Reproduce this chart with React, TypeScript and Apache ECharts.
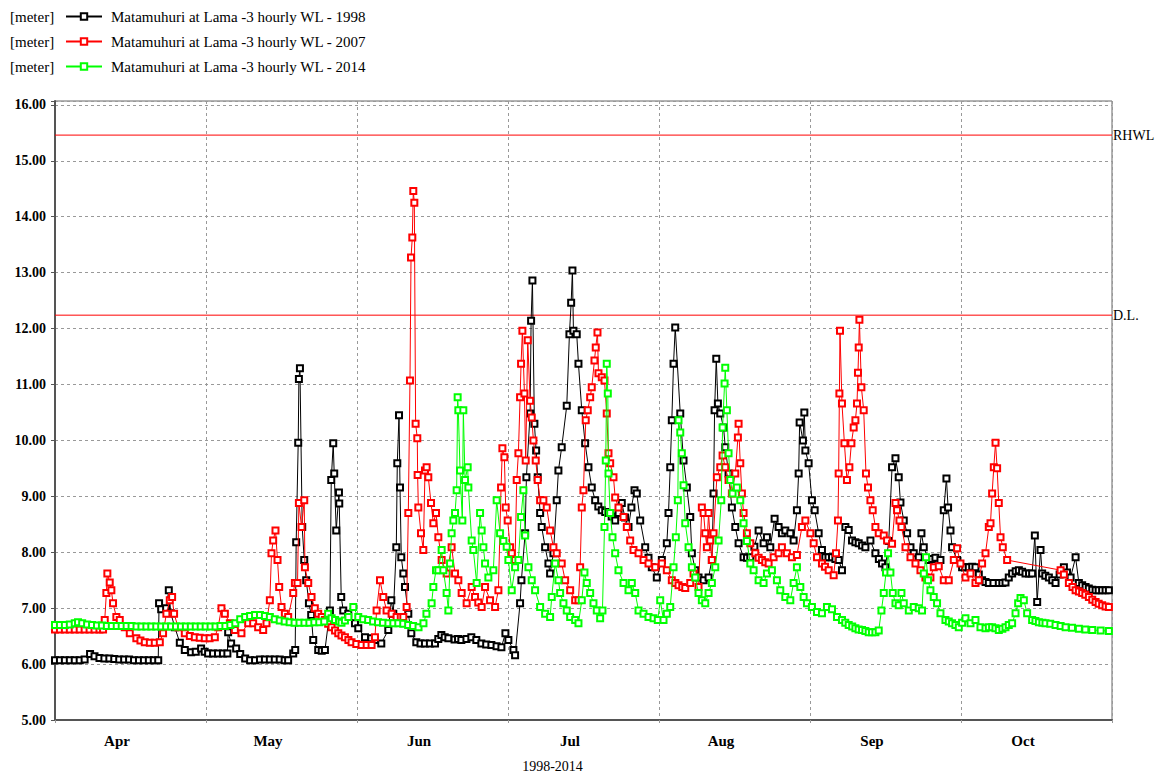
import React, { useEffect, useRef } from 'react';
import * as echarts from 'echarts';

// x values: days since 1 April (3-hourly readings sampled), y values: water level in metres
const MONTH_LABELS = ['Apr', 'May', 'Jun', 'Jul', 'Aug', 'Sep', 'Oct'];
const X_TITLE = '1998-2014';
const UNIT_LABEL = '[meter]';
const SERIES_NAMES = [
  'Matamuhuri at Lama -3 hourly WL - 1998',
  'Matamuhuri at Lama -3 hourly WL - 2007',
  'Matamuhuri at Lama -3 hourly WL - 2014',
];
const SERIES_COLORS = ['#000000', '#ff0000', '#00ff00'];
const REFERENCE_LEVELS = [
  { name: 'RHWL', value: 15.46 },
  { name: 'D.L.', value: 12.24 },
];

const WL_1998: [number, number][] = [
  [0, 6.07], [1, 6.07], [2, 6.07], [3, 6.07], [4, 6.07], [5, 6.07], [6, 6.08], [7.1, 6.18], [8, 6.14], [9, 6.11],
  [10, 6.1], [11, 6.1], [12, 6.09], [13, 6.08], [14, 6.08], [15, 6.08], [16, 6.07], [17, 6.07], [18, 6.07], [19, 6.07],
  [20, 6.07], [20.9, 6.07], [21.07, 7.09], [21.5, 6.98], [22.5, 7.0], [23.04, 7.32], [23.44, 6.91], [24.26, 6.66],
  [25.27, 6.38], [26.28, 6.25], [27.56, 6.21], [28.5, 6.22], [29.58, 6.28], [30.3, 6.22], [31, 6.19], [32, 6.19],
  [33, 6.19], [34, 6.19], [34.9, 6.19], [35.06, 6.57], [35.66, 6.37], [36.68, 6.28], [37.5, 6.18], [38.5, 6.1],
  [39.5, 6.07], [40.5, 6.07], [41.5, 6.08], [42.5, 6.08], [43.5, 6.08], [44.5, 6.08], [45.5, 6.08], [46.5, 6.07],
  [47.2, 6.07], [48.23, 6.19], [48.63, 6.25], [48.83, 8.18], [49.24, 9.96], [49.38, 11.1], [49.59, 11.29],
  [50.05, 8.45], [50.46, 7.86], [50.86, 7.5], [51.41, 7.09], [51.87, 6.88], [52.28, 6.43], [53.29, 6.25],
  [54.0, 6.24], [54.65, 6.25], [55.66, 6.96], [55.93, 9.29], [56.33, 9.95], [56.53, 9.41], [56.94, 8.39],
  [57.49, 9.07], [57.55, 8.87], [57.95, 7.2], [58.36, 6.96], [59.37, 6.9], [60.73, 6.73], [61.4, 6.64],
  [62.76, 6.48], [64.03, 6.46], [64.78, 6.43], [66.06, 6.37], [67.48, 6.61], [68.09, 7.14], [68.49, 6.9],
  [69.1, 8.09], [69.3, 9.59], [69.65, 10.45], [69.85, 9.16], [70.11, 7.91], [70.52, 7.62], [70.86, 7.38],
  [71.53, 6.9], [72.14, 6.55], [73.15, 6.39], [74.0, 6.37], [74.9, 6.37], [75.9, 6.37], [76.94, 6.37],
  [77.6, 6.45], [78.22, 6.52], [78.9, 6.48], [79.64, 6.46], [80.9, 6.44], [81.6, 6.45], [82.27, 6.43],
  [83.3, 6.45], [84.29, 6.48], [85.3, 6.43], [86.32, 6.37], [87.3, 6.35], [88.35, 6.34], [89.4, 6.32],
  [90.38, 6.3], [91.19, 6.55], [91.79, 6.43], [92.81, 6.25], [93.15, 6.16], [94.16, 7.09], [94.43, 7.5],
  [95.18, 8.34], [95.44, 9.34], [96.19, 10.48], [96.39, 12.14], [96.66, 12.86], [97.06, 10.3], [97.41, 9.82],
  [97.73, 9.34], [98.22, 8.7], [98.54, 8.45], [99.23, 8.09], [99.9, 7.8], [100.24, 7.62], [100.91, 7.98],
  [101.58, 8.93], [101.92, 9.46], [102.59, 9.88], [103.61, 10.62], [104.15, 11.9], [104.5, 12.46],
  [104.76, 13.04], [104.96, 11.96], [105.63, 11.9], [105.98, 11.37], [106.65, 10.54], [107.33, 9.95],
  [108.0, 9.52], [108.67, 9.16], [109.36, 8.93], [110.0, 8.82], [110.7, 8.75], [111.4, 8.72], [112.06, 8.7],
  [112.7, 8.64], [113.41, 8.57], [114.1, 8.7], [114.75, 8.88], [115.4, 8.62], [116.11, 8.45], [116.7, 8.8],
  [117.33, 9.11], [117.79, 9.05], [118.48, 8.57], [119.49, 8.09], [120.16, 7.9], [120.83, 7.73], [121.84, 7.55],
  [122.86, 7.86], [123.87, 8.16], [124.21, 8.7], [124.56, 9.52], [124.88, 10.36], [125.23, 11.37],
  [125.57, 12.02], [126.59, 10.48], [127.25, 9.64], [127.92, 9.16], [128.61, 8.63], [128.94, 7.98],
  [129.62, 7.68], [130.29, 7.55], [131.31, 7.5], [132.32, 7.55], [132.99, 7.86], [133.33, 9.05], [133.54, 10.54],
  [133.88, 11.46], [134.21, 10.66], [134.69, 10.48], [135.36, 10.23], [135.7, 9.88], [136.37, 9.41],
  [137.04, 8.8], [137.73, 8.45], [138.4, 8.16], [139.41, 7.91], [140.1, 7.9], [140.77, 7.91], [141.6, 8.1],
  [142.45, 8.39], [143.46, 8.16], [144.14, 8.27], [144.82, 8.09], [145.69, 8.6], [146.5, 8.45], [147.17, 8.34],
  [147.86, 8.39], [148.87, 8.34], [149.54, 8.21], [150.21, 8.75], [150.56, 9.41], [150.76, 10.32], [151.43, 10.0],
  [151.71, 10.5], [151.92, 9.82], [152.58, 9.59], [153.25, 8.93], [153.8, 8.75], [154.61, 8.34], [155.28, 8.04],
  [155.96, 7.91], [156.6, 7.91], [157.31, 7.91], [158.0, 7.88], [158.66, 7.86], [159.33, 7.68], [160.02, 8.45],
  [160.69, 8.4], [161.36, 8.21], [162.05, 8.18], [162.72, 8.16], [163.4, 8.12], [164.07, 8.09], [165.09, 8.21],
  [166.1, 7.98], [166.8, 7.88], [167.44, 7.8], [168.13, 7.73], [168.8, 8.2], [169.47, 9.52], [170.16, 9.68],
  [170.82, 9.34], [171.17, 8.89], [171.84, 8.57], [172.52, 8.34], [173.2, 8.09], [173.86, 7.98], [174.87, 7.91],
  [175.42, 8.34], [175.89, 8.09], [176.9, 7.86], [177.6, 7.88], [178.25, 7.9], [179.27, 7.86], [179.94, 8.75],
  [180.48, 9.32], [180.81, 8.8], [181.3, 8.39], [181.62, 8.09], [182.64, 7.86], [183.65, 7.73], [184.3, 7.73],
  [185.0, 7.73], [185.7, 7.74], [186.36, 7.73], [187.03, 7.6], [187.7, 7.5], [188.4, 7.47], [189.06, 7.45],
  [190.0, 7.45], [191.08, 7.45], [191.8, 7.45], [192.44, 7.46], [193.1, 7.55], [193.78, 7.62], [194.5, 7.66],
  [195.14, 7.68], [195.8, 7.65], [196.49, 7.62], [197.2, 7.62], [197.83, 7.62], [198.38, 8.3], [198.85, 7.11],
  [199.53, 8.04], [199.86, 7.62], [200.5, 7.58], [201.22, 7.55], [201.9, 7.5], [202.57, 7.45], [203.4, 7.6],
  [204.26, 7.73], [204.9, 7.64], [205.62, 7.55], [206.63, 7.91], [207.29, 7.45], [207.96, 7.41], [208.65, 7.38],
  [209.3, 7.35], [210.0, 7.33], [210.68, 7.32], [211.3, 7.32], [212.0, 7.32], [212.7, 7.32], [213.37, 7.32],
];

const WL_2007: [number, number][] = [
  [0, 6.62], [1, 6.62], [2, 6.62], [3, 6.62], [4, 6.62], [5, 6.62], [6, 6.62], [7, 6.62], [8, 6.62], [9, 6.62],
  [9.73, 6.62], [10.07, 6.79], [10.4, 7.27], [10.6, 7.62], [11.08, 7.46], [11.41, 7.32], [11.75, 7.09],
  [12.42, 6.84], [13.11, 6.79], [14.12, 6.66], [15.14, 6.55], [16.47, 6.46], [17.3, 6.42], [18.18, 6.39],
  [19.2, 6.38], [20.2, 6.38], [21.22, 6.39], [21.88, 6.55], [22.55, 6.9], [23.24, 7.14], [23.71, 7.2],
  [24.11, 6.9], [24.92, 6.66], [26.28, 6.55], [27.3, 6.5], [28.31, 6.48], [29.3, 6.47], [30.33, 6.46],
  [31.3, 6.46], [32.36, 6.48], [33.03, 6.66], [33.7, 7.0], [34.39, 6.9], [35.4, 6.73], [36.41, 6.61],
  [37.75, 6.55], [39.11, 6.73], [40.12, 6.73], [41.13, 6.66], [42.15, 6.61], [42.82, 6.73], [43.5, 7.14],
  [43.83, 7.98], [44.17, 8.21], [44.64, 8.39], [45.05, 7.86], [45.39, 7.38], [45.86, 7.02], [46.54, 6.9],
  [47.21, 6.84], [48.23, 7.27], [48.57, 7.45], [49.1, 7.45], [49.38, 8.88], [49.91, 8.45], [50.46, 8.93],
  [50.6, 7.73], [51.27, 7.45], [51.94, 7.2], [52.6, 7.0], [53.29, 6.9], [54.0, 6.84], [54.65, 6.79],
  [55.3, 6.72], [55.99, 6.66], [56.7, 6.6], [57.35, 6.55], [58.0, 6.51], [58.7, 6.48], [59.4, 6.43],
  [60.04, 6.39], [61.0, 6.36], [62.07, 6.34], [63.1, 6.34], [64.09, 6.34], [64.78, 6.48], [65.11, 6.96],
  [65.8, 7.5], [66.46, 7.2], [67.13, 6.96], [68.15, 6.9], [69.16, 6.84], [70.0, 6.84], [70.52, 6.84],
  [71.19, 7.02], [71.53, 8.7], [71.87, 11.07], [72.08, 13.27], [72.34, 13.63], [72.54, 14.46], [72.75, 14.25],
  [73.01, 10.3], [73.35, 10.04], [73.42, 9.38], [73.56, 8.8], [74.1, 8.34], [74.57, 8.04], [74.91, 9.46],
  [75.24, 9.52], [75.58, 9.34], [76.13, 8.88], [76.6, 8.52], [77.14, 8.7], [77.61, 8.27], [78.28, 7.86],
  [79.29, 7.62], [80.3, 8.09], [80.99, 7.62], [81.66, 7.5], [82.33, 7.27], [83.34, 7.09], [84.36, 7.38],
  [85.04, 7.2], [85.7, 7.1], [86.38, 7.02], [87.07, 7.38], [88.08, 7.14], [89.1, 7.02], [89.77, 7.32],
  [90.31, 9.16], [90.58, 9.86], [90.98, 9.7], [91.25, 8.8], [91.65, 8.57], [92.14, 8.09], [92.47, 7.98],
  [93.15, 7.86], [93.48, 9.29], [93.82, 9.77], [94.16, 10.77], [94.36, 11.37], [94.63, 11.96], [95.04, 10.84],
  [95.3, 9.64], [95.71, 11.79], [96.19, 10.71], [96.52, 10.41], [96.86, 10.0], [97.33, 9.64], [97.73, 9.29],
  [98.22, 8.93], [98.88, 8.93], [99.56, 8.8], [100.24, 8.39], [100.91, 8.09], [101.58, 7.98], [102.59, 7.8],
  [103.28, 7.5], [104.3, 7.32], [105.31, 7.14], [105.98, 7.14], [106.32, 7.73], [106.65, 8.8], [106.99, 9.11],
  [107.45, 10.36], [107.86, 10.54], [108.35, 10.77], [108.67, 10.95], [109.22, 11.43], [109.48, 11.66],
  [109.83, 11.93], [110.03, 11.2], [110.7, 11.13], [111.25, 11.07], [111.71, 10.48], [112.06, 9.77],
  [112.4, 9.59], [113.07, 9.34], [113.41, 8.98], [114.08, 8.8], [115.1, 8.63], [115.77, 8.45], [116.45, 8.21],
  [117.12, 8.04], [118.14, 7.98], [119.15, 7.86], [120.16, 7.8], [121.52, 7.73], [122.86, 7.8], [123.87, 7.68],
  [124.88, 7.5], [125.6, 7.45], [126.24, 7.41], [127.0, 7.38], [127.6, 7.36], [128.61, 7.45], [129.28, 7.62],
  [130.29, 7.38], [130.96, 8.8], [131.31, 8.7], [131.65, 8.34], [131.98, 8.09], [132.32, 8.7], [132.66, 8.21],
  [132.99, 7.86], [133.33, 8.34], [134.0, 9.34], [134.69, 9.52], [135.16, 9.73], [135.7, 9.52], [136.37, 9.29],
  [137.04, 9.05], [137.73, 9.41], [138.26, 10.05], [138.4, 10.3], [138.74, 9.59], [139.07, 9.05], [139.41, 8.7],
  [140.08, 8.34], [140.77, 8.16], [141.78, 7.98], [142.45, 7.9], [143.12, 7.86], [143.8, 7.82], [144.48, 7.8],
  [145.49, 7.91], [146.5, 7.98], [147.17, 8.09], [148.18, 7.98], [149.2, 7.91], [150.21, 7.95], [151.22, 8.45],
  [151.92, 8.57], [152.93, 8.34], [153.6, 8.16], [154.27, 7.91], [155.28, 7.8], [155.9, 7.74], [156.64, 7.68],
  [157.65, 7.59], [158.12, 7.98], [158.52, 8.57], [158.66, 9.41], [158.81, 10.84], [158.93, 11.96],
  [159.33, 10.66], [159.82, 9.95], [160.34, 9.29], [160.83, 9.52], [161.24, 9.95], [161.7, 10.23],
  [162.05, 10.36], [162.37, 10.66], [162.57, 11.21], [162.72, 11.66], [162.86, 12.16], [163.26, 10.95],
  [163.73, 10.54], [164.19, 9.41], [164.6, 9.16], [165.09, 8.93], [165.55, 8.75], [166.1, 8.45], [166.77, 8.34],
  [167.79, 8.3], [168.46, 8.21], [169.47, 8.15], [170.16, 8.88], [170.48, 8.75], [170.97, 8.57], [171.37, 8.45],
  [172.19, 8.09], [173.2, 7.91], [174.21, 7.8], [175.22, 7.68], [176.23, 7.55], [177.24, 7.55], [177.91, 7.73],
  [178.93, 7.75], [179.94, 7.5], [180.95, 7.5], [181.97, 7.86], [182.64, 8.07], [183.32, 7.8], [184.33, 7.55],
  [185.35, 7.62], [186.36, 7.45], [187.03, 7.5], [187.7, 7.8], [188.39, 7.98], [189.06, 8.45], [189.4, 8.52],
  [189.73, 9.05], [190.07, 9.52], [190.42, 9.96], [190.74, 9.5], [191.08, 8.88], [191.43, 8.27], [191.89, 8.09],
  [192.77, 7.86], [203.59, 7.68], [204.26, 7.6], [205.27, 7.45], [206.0, 7.38], [206.63, 7.32], [207.3, 7.3],
  [207.96, 7.27], [208.6, 7.24], [209.32, 7.2], [210.0, 7.15], [210.68, 7.11], [211.3, 7.08], [212.01, 7.05],
  [212.7, 7.03], [213.37, 7.02],
];

const WL_2014: [number, number][] = [
  [0, 6.7], [1, 6.7], [2, 6.7], [3, 6.71], [4, 6.73], [4.66, 6.75], [5.5, 6.73], [6.5, 6.71], [7.5, 6.7],
  [8.5, 6.69], [9.5, 6.69], [10.5, 6.68], [11.5, 6.68], [12.5, 6.68], [13.5, 6.68], [14.5, 6.68], [15.5, 6.68],
  [16.5, 6.67], [17.5, 6.67], [18.5, 6.67], [19.5, 6.67], [20.5, 6.67], [21.5, 6.67], [22.5, 6.67], [23.5, 6.67],
  [24.5, 6.67], [25.5, 6.67], [26.5, 6.67], [27.5, 6.67], [28.5, 6.67], [29.5, 6.67], [30.5, 6.67], [31.5, 6.67],
  [32.5, 6.67], [33.5, 6.68], [34.5, 6.68], [35.5, 6.7], [36.5, 6.73], [37.5, 6.8], [38.5, 6.84], [39.5, 6.86],
  [40.5, 6.88], [41.5, 6.88], [42.5, 6.86], [43.5, 6.84], [44.5, 6.8], [45.5, 6.78], [46.5, 6.76], [47.5, 6.75],
  [48.5, 6.74], [49.5, 6.74], [50.5, 6.74], [51.5, 6.74], [52.5, 6.75], [53.5, 6.75], [54.5, 6.76], [55.3, 6.9],
  [56.0, 6.82], [56.7, 6.79], [57.5, 6.76], [58.0, 6.74], [58.7, 6.78], [59.4, 6.84], [60.4, 7.02], [61.4, 6.84],
  [62.4, 6.8], [63.4, 6.79], [64.4, 6.76], [65.4, 6.75], [66.4, 6.74], [67.5, 6.73], [68.5, 6.73], [69.5, 6.73],
  [70.5, 6.72], [71.5, 6.7], [72.5, 6.68], [73.6, 6.66], [74.6, 6.73], [75.2, 6.9], [76.25, 7.09], [76.6, 7.38],
  [77.14, 7.68], [77.61, 7.68], [78.28, 8.04], [78.62, 7.68], [79.29, 7.27], [79.64, 6.96], [79.98, 7.8],
  [80.3, 8.34], [80.65, 8.57], [80.99, 8.7], [81.32, 9.11], [81.52, 10.77], [81.66, 10.54], [82.0, 9.46],
  [82.47, 8.57], [82.67, 10.54], [83.02, 9.29], [83.55, 9.52], [83.69, 9.16], [84.36, 8.21], [84.7, 8.04],
  [85.37, 7.45], [86.06, 8.7], [86.38, 8.39], [86.73, 8.09], [87.07, 7.8], [87.74, 7.55], [88.75, 7.68],
  [89.42, 8.93], [90.11, 8.34], [90.78, 8.2], [91.45, 8.1], [91.79, 7.86], [92.47, 7.32], [93.15, 7.73],
  [93.82, 7.86], [94.36, 8.63], [94.83, 9.11], [95.18, 8.3], [95.85, 7.73], [96.52, 7.5], [97.2, 7.32],
  [98.22, 7.02], [99.23, 6.9], [100.24, 6.84], [100.57, 7.2], [101.26, 7.8], [101.92, 7.5], [102.27, 7.27],
  [102.94, 7.09], [103.61, 6.96], [104.3, 6.84], [105.31, 6.79], [105.98, 6.73], [106.65, 7.14], [107.19, 7.64],
  [107.66, 7.45], [108.35, 7.27], [109.02, 7.09], [109.69, 6.96], [110.37, 6.82], [110.84, 6.96], [111.25, 8.45],
  [111.51, 9.64], [111.71, 11.37], [111.92, 10.84], [112.06, 9.41], [112.4, 8.7], [112.87, 8.27], [113.41, 7.98],
  [114.08, 7.68], [115.1, 7.45], [116.11, 7.32], [116.78, 7.45], [117.47, 7.27], [118.14, 6.96], [119.15, 6.9],
  [120.16, 6.84], [121.18, 6.82], [122.04, 6.79], [122.53, 7.14], [123.2, 6.79], [123.87, 6.9], [124.56, 7.02],
  [125.23, 7.73], [125.69, 8.27], [126.1, 8.93], [126.24, 10.36], [126.59, 10.14], [126.91, 9.77], [127.25, 9.2],
  [127.6, 8.52], [128.27, 8.09], [128.94, 7.73], [129.62, 7.55], [130.29, 7.27], [130.96, 7.14], [131.65, 7.09],
  [132.32, 7.27], [132.99, 7.45], [133.68, 7.73], [134.35, 8.21], [134.89, 8.93], [135.16, 10.23], [135.56, 11.02],
  [135.7, 11.3], [136.03, 10.54], [136.37, 9.77], [136.72, 9.29], [137.18, 9.05], [138.05, 9.16], [138.74, 8.93],
  [139.41, 8.52], [140.08, 8.2], [140.77, 7.8], [141.44, 7.68], [142.45, 7.5], [143.46, 7.45], [144.14, 7.62],
  [145.15, 7.68], [146.16, 7.5], [146.84, 7.32], [147.86, 7.2], [148.87, 7.14], [149.54, 7.45], [150.21, 7.73],
  [150.9, 7.38], [151.57, 7.2], [152.24, 7.09], [153.25, 7.02], [154.27, 6.93], [155.28, 6.91], [156.29, 7.02],
  [157.31, 6.98], [158.32, 6.84], [159.33, 6.79], [160.0, 6.74], [160.69, 6.7], [161.4, 6.67], [162.05, 6.64],
  [162.7, 6.62], [163.39, 6.61], [164.07, 6.59], [164.74, 6.57], [165.4, 6.57], [166.1, 6.57], [166.77, 6.6],
  [167.32, 6.96], [167.79, 7.27], [168.25, 7.64], [168.66, 7.98], [169.14, 7.64], [169.61, 7.27], [170.16, 7.09],
  [170.82, 7.05], [171.37, 7.27], [171.84, 7.09], [172.86, 6.96], [173.86, 7.02], [174.87, 7.0], [175.54, 6.96],
  [175.89, 7.62], [176.35, 7.91], [176.76, 7.5], [177.24, 7.32], [177.91, 7.2], [178.58, 7.09], [179.27, 6.91],
  [180.28, 6.79], [180.95, 6.76], [181.62, 6.73], [182.3, 6.7], [182.98, 6.66], [183.65, 6.74], [184.33, 6.82],
  [185.35, 6.73], [186.36, 6.79], [187.37, 6.66], [188.39, 6.64], [189.06, 6.66], [189.73, 6.66], [190.4, 6.64],
  [191.08, 6.61], [191.8, 6.63], [192.44, 6.66], [193.1, 6.7], [193.78, 6.73], [194.47, 6.91], [195.0, 7.09],
  [195.48, 7.18], [196.15, 7.14], [196.82, 6.91], [197.83, 6.79], [198.5, 6.77], [199.19, 6.75], [199.9, 6.74],
  [200.54, 6.73], [201.5, 6.72], [202.57, 6.7], [203.6, 6.68], [204.6, 6.66], [205.9, 6.65], [207.29, 6.63],
  [208.6, 6.62], [210.0, 6.61], [211.7, 6.6], [213.37, 6.59],
];

const SERIES_DATA = [WL_1998, WL_2007, WL_2014];

const X_MIN = 0;
const X_MAX = 214;
const Y_MIN = 5;
const Y_MAX = 16.07;
const SERIF = 'Liberation Serif, Times New Roman, serif';

export default function App() {
  const ref = useRef<HTMLDivElement>(null);

  useEffect(() => {
    if (!ref.current) return;
    const chart = echarts.init(ref.current, null, { renderer: 'svg' });

    const dataSeries: any[] = SERIES_NAMES.map((name, i) => ({
      name,
      type: 'line',
      xAxisIndex: 0,
      data: SERIES_DATA[i],
      symbol: 'emptyRect',
      symbolSize: 6,
      showSymbol: true,
      showAllSymbol: true,
      lineStyle: { color: SERIES_COLORS[i], width: 1 },
      itemStyle: { color: SERIES_COLORS[i], borderColor: SERIES_COLORS[i], borderWidth: 1 },
      z: 3 + i,
    }));

    const levelSeries: any[] = REFERENCE_LEVELS.map((r) => ({
      name: r.name,
      type: 'line',
      xAxisIndex: 0,
      data: [
        [X_MIN, r.value],
        [X_MAX, r.value],
      ],
      symbol: 'none',
      silent: true,
      color: '#ff0000',
      lineStyle: { color: '#ff0000', width: 1, type: 'solid' },
      itemStyle: { color: '#ff0000' },
      z: 2,
      endLabel: {
        show: true,
        formatter: (p: any) => p.seriesName,
        distance: 1,
        color: '#000',
        fontFamily: SERIF,
        fontSize: 14,
      },
    }));

    chart.setOption({
      animation: false,
      backgroundColor: '#ffffff',
      textStyle: { fontFamily: SERIF },
      grid: {
        left: 55,
        right: 56,
        top: 101,
        bottom: 56,
        show: true,
        borderColor: '#666',
        borderWidth: 1,
        backgroundColor: 'transparent',
      },
      legend: {
        orient: 'vertical',
        left: 65,
        top: 8,
        itemGap: 8,
        itemWidth: 36,
        itemHeight: 8,
        padding: 0,
        textStyle: { fontFamily: SERIF, fontSize: 15, color: '#000', lineHeight: 17, padding: [0, 0, 0, 4] },
        data: SERIES_NAMES,
      },
      graphic: SERIES_NAMES.map((_, i) => ({
        type: 'text',
        left: 10,
        top: 8 + i * 25,
        style: {
          text: UNIT_LABEL,
          fontFamily: SERIF,
          fontSize: 15,
          fill: '#000',
          lineHeight: 17,
        },
      })),
      xAxis: [
        {
          type: 'value',
          min: X_MIN,
          max: X_MAX,
          interval: (X_MAX - X_MIN) / 7,
          position: 'bottom',
          offset: 0,
          axisLine: { show: true, lineStyle: { color: '#555', width: 2 } },
          axisTick: { show: true, length: 5, lineStyle: { color: '#999', type: [3, 3] } },
          axisLabel: { show: false },
          splitLine: { show: true, lineStyle: { color: '#999', width: 1, type: [3, 3] } },
        },
        {
          type: 'category',
          data: MONTH_LABELS,
          position: 'bottom',
          offset: 0,
          boundaryGap: true,
          axisLine: { show: false },
          axisTick: { show: false },
          splitLine: { show: false },
          axisLabel: {
            show: true,
            color: '#000',
            fontFamily: SERIF,
            fontSize: 15,
            fontWeight: 'bold',
            margin: 13,
            padding: [0, 27, 0, 0],
          },
          name: X_TITLE,
          nameLocation: 'middle',
          nameGap: 39,
          nameTextStyle: { color: '#000', fontFamily: SERIF, fontSize: 14, padding: [0, 62, 0, 0] },
        },
      ],
      yAxis: {
        type: 'value',
        min: Y_MIN,
        max: Y_MAX,
        interval: 1,
        axisLine: { show: true, lineStyle: { color: '#555', width: 2 } },
        axisTick: { show: true, length: 4, lineStyle: { color: '#555' } },
        axisLabel: {
          color: '#000',
          fontFamily: SERIF,
          fontSize: 14,
          fontWeight: 'bold',
          margin: 9,
          formatter: (v: number) => (Math.abs(v - Math.round(v)) < 1e-6 ? v.toFixed(2) : ''),
        },
        splitLine: { show: true, lineStyle: { color: '#999', width: 1, type: [3, 3] } },
      },
      series: [...levelSeries, ...dataSeries],
    });

    return () => chart.dispose();
  }, []);

  return (
    <div
      ref={ref}
      style={{ position: 'fixed', left: 0, top: 0, width: 1168, height: 778, background: '#fff' }}
    />
  );
}
